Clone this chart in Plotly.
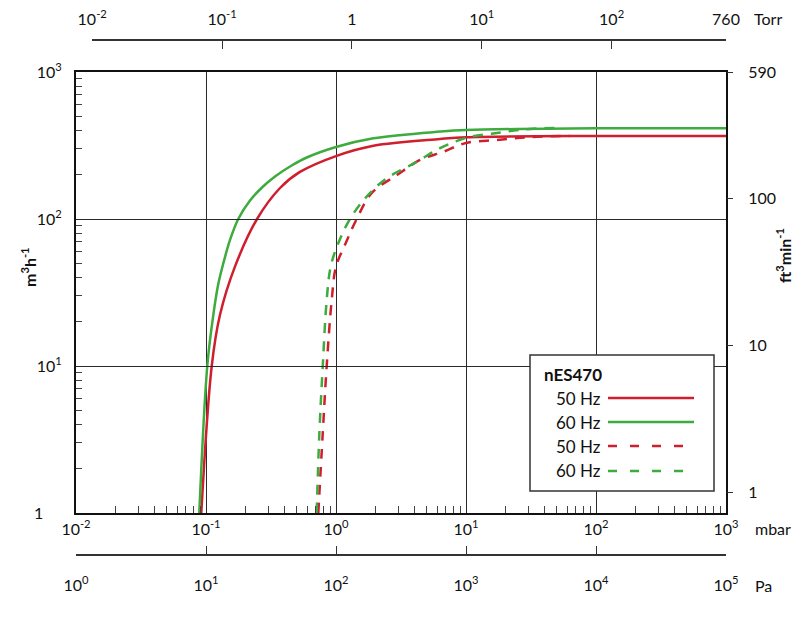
import math
import plotly.graph_objects as go

# ---------------- data ----------------
# pressure in mbar, pumping speed in m3/h
p_50_solid = [0.092, 0.1107, 0.128, 0.167, 0.247, 0.371, 0.528, 1.0, 1.94, 6.3, 10, 100, 1000]
s_50_solid = [1, 10, 22.2, 47.4, 100, 162.5, 209, 268, 315, 350, 360, 367, 367]

p_60_solid = [0.0888, 0.1023, 0.1138, 0.1243, 0.136, 0.153, 0.177, 0.218, 0.2697, 0.3395, 0.456, 0.596,
              1.0, 1.94, 6.3, 10, 100, 1000]
s_60_solid = [1, 10, 22.2, 36.1, 50, 72, 100, 133.6, 163.8, 194.6, 231, 262,
              309, 354, 393, 403, 414, 414]

p_50_dash = [0.731, 0.791, 0.848, 0.927, 1.0, 1.187, 1.443, 1.88, 2.94, 4.43, 6.65, 10, 17.3, 31, 63]
s_50_dash = [1, 3.5, 10, 28.1, 47.4, 68.4, 100, 150, 199, 252, 286, 329, 345, 361, 367]

p_60_dash = [0.710, 0.745, 0.791, 0.848, 0.910, 1.041, 1.281, 1.72, 2.45, 4.18, 6.31, 10, 17.3, 31, 52]
s_60_dash = [1, 3.5, 10, 28.1, 47.4, 68.4, 100, 142, 189, 245, 303, 356, 385, 410, 416]

series_names = ["50 Hz", "60 Hz", "50 Hz", "60 Hz"]
legend_title = "nES470"

mbar_ticks = [0.01, 0.1, 1, 10, 100, 1000]
mbar_labels = ["10<sup>-2</sup>", "10<sup>-1</sup>", "10<sup>0</sup>", "10<sup>1</sup>", "10<sup>2</sup>", "10<sup>3</sup>"]
speed_ticks = [1, 10, 100, 1000]
speed_labels = ["1<span style='color:rgba(0,0,0,0)'>00</span>", "10<sup>1</sup>", "10<sup>2</sup>", "10<sup>3</sup>"]
cfm_ticks = [1, 10, 100, 10 ** 2.858]
cfm_labels = ["1", "10", "100", "590"]
torr_ticks = [0.01, 0.1, 1, 10, 100, 760]
torr_labels = ["10<sup>-2</sup>", "10<sup>-1</sup>", "1", "10<sup>1</sup>", "10<sup>2</sup>", "760"]
pa_ticks = [1, 10, 100, 1000, 10000, 100000]
pa_labels = ["10<sup>0</sup>", "10<sup>1</sup>", "10<sup>2</sup>", "10<sup>3</sup>", "10<sup>4</sup>", "10<sup>5</sup>"]

# ---------------- geometry helpers ----------------
# The page body has an 8px margin, so the figure is drawn 8px up/left.
W, H = 800, 620
OFF = 8
REF_L, REF_T, REF_R, REF_B = 76, 40, 726, 555    # paper area in screen pixels
L, T = REF_L - OFF, REF_T - OFF
PW, PH = REF_R - REF_L, REF_B - REF_T
R, B = W - L - PW, H - T - PH


def px(x):
    return (x - REF_L) / PW


def py(y):
    return (REF_B - y) / PH


RED = "#cf1f2e"
GREEN = "#3dab3d"
FONT = "Lato, 'Open Sans', sans-serif"

minor_x = [m * 10 ** e for e in range(-2, 3) for m in range(2, 10)]
minor_y = [m * 10 ** e for e in range(0, 3) for m in range(2, 10)]

fig = go.Figure()

curves = [
    (p_50_solid, s_50_solid, RED, "solid"),
    (p_60_solid, s_60_solid, GREEN, "solid"),
    (p_50_dash, s_50_dash, RED, "10px,8px"),
    (p_60_dash, s_60_dash, GREEN, "10px,8px"),
]
for (xs, ys, col, dash), name in zip(curves, series_names):
    fig.add_trace(go.Scatter(
        x=xs, y=ys, mode="lines", name=name,
        line=dict(color=col, width=2.5, dash=dash, shape="spline", smoothing=1.0),
        showlegend=False, hoverinfo="skip",
    ))

# empty helper traces so that the secondary axes are drawn
fig.add_trace(go.Scatter(x=[], y=[], xaxis="x", yaxis="y2", showlegend=False, hoverinfo="skip"))
fig.add_trace(go.Scatter(x=[], y=[], xaxis="x2", yaxis="y", showlegend=False, hoverinfo="skip"))
fig.add_trace(go.Scatter(x=[], y=[], xaxis="x3", yaxis="y", showlegend=False, hoverinfo="skip"))

tickfont = dict(family=FONT, size=16, color="#111")

fig.update_layout(
    width=W, height=H,
    margin=dict(l=L, r=R, t=T, b=B, autoexpand=False),
    paper_bgcolor="white",
    plot_bgcolor="rgba(0,0,0,0)",
    font=dict(family=FONT, size=16, color="#111"),
    xaxis=dict(
        type="log", range=[-2, 3], domain=[0, 1], anchor="y", automargin=False,
        tickmode="array", tickvals=mbar_ticks, ticktext=mbar_labels, ticks="",
        tickfont=tickfont, ticklabelstandoff=1,
        showgrid=True, gridcolor="#2a2a2a", gridwidth=1,
        showline=True, linecolor="#111", linewidth=2, mirror=True, zeroline=False,
        minor=dict(tickmode="array", tickvals=minor_x, ticks="inside", ticklen=7,
                   tickcolor="#444", tickwidth=1, showgrid=False),
    ),
    yaxis=dict(
        type="log", range=[0, 3], domain=[py(513), py(72)], anchor="x", automargin=False,
        tickmode="array", tickvals=speed_ticks, ticktext=speed_labels, ticks="",
        tickfont=tickfont, ticklabelstandoff=9,
        showgrid=True, gridcolor="#2a2a2a", gridwidth=1,
        showline=True, linecolor="#111", linewidth=2, mirror=True, zeroline=False,
        minor=dict(tickmode="array", tickvals=minor_y, ticks="inside", ticklen=6,
                   tickcolor="#444", tickwidth=1, showgrid=False),
    ),
    yaxis2=dict(
        type="log", range=[-0.142, 2.858], overlaying="y", side="right", anchor="x", automargin=False,
        tickmode="array", tickvals=cfm_ticks, ticktext=cfm_labels,
        ticks="outside", ticklen=6, tickcolor="#333", tickwidth=1.2,
        tickfont=tickfont, ticklabelstandoff=12,
        showgrid=False, showline=False, zeroline=False,
    ),
    xaxis2=dict(
        type="log", range=[-2, math.log10(760)], domain=[px(92.2), 1], automargin=False,
        anchor="free", position=1, side="top",
        tickmode="array", tickvals=torr_ticks, ticktext=torr_labels,
        ticks="inside", ticklen=8, tickcolor="#333", tickwidth=1.2,
        tickfont=tickfont, ticklabelstandoff=8,
        showgrid=False, showline=True, linecolor="#333", linewidth=1.5, zeroline=False,
    ),
    xaxis3=dict(
        type="log", range=[0, 5], domain=[0, 1], overlaying="x", automargin=False,
        anchor="free", position=0, side="bottom",
        tickmode="array", tickvals=pa_ticks, ticktext=pa_labels,
        ticks="inside", ticklen=8, tickcolor="#333", tickwidth=1.2,
        tickfont=tickfont, ticklabelstandoff=16,
        showgrid=False, showline=True, linecolor="#333", linewidth=1.5, zeroline=False,
    ),
)

annotations = [
    dict(text="<b>m<sup>3</sup>h<sup>-1</sup></b>", x=px(28), y=py(267), textangle=-90,
         xanchor="center", yanchor="middle", font=dict(family=FONT, size=16, color="#111")),
    dict(text="<b>ft<sup>3</sup>min<sup>-1</sup></b>", x=px(783), y=py(256), textangle=-90,
         xanchor="center", yanchor="middle", font=dict(family=FONT, size=16, color="#111")),
    dict(text="Torr", x=px(752), y=py(19), xanchor="left", yanchor="middle"),
    dict(text="mbar", x=px(753), y=py(528), xanchor="left", yanchor="middle"),
    dict(text="Pa", x=px(753), y=py(585), xanchor="left", yanchor="middle"),
    dict(text="<b>" + legend_title + "</b>", x=px(542), y=py(375), xanchor="left", yanchor="middle",
         font=dict(family=FONT, size=17, color="#111")),
]
row_y = [398, 422, 446, 471]
shapes = [
    dict(type="rect", xref="paper", yref="paper", x0=px(530), x1=px(714), y0=py(491), y1=py(355),
         line=dict(color="#333", width=1.5), fillcolor="white", layer="above"),
]
for (xs, ys, col, dash), name, ry in zip(curves, series_names, row_y):
    annotations.append(dict(text=name, x=px(603), y=py(ry), xanchor="right", yanchor="middle",
                            font=dict(family=FONT, size=17, color="#111")))
    shapes.append(dict(type="line", xref="paper", yref="paper", x0=px(608), x1=px(694),
                       y0=py(ry), y1=py(ry), layer="above",
                       line=dict(color=col, width=2.5, dash="solid" if dash == "solid" else "9px,13px")))

for a in annotations:
    a.setdefault("xref", "paper")
    a.setdefault("yref", "paper")
    a.setdefault("showarrow", False)
    a.setdefault("font", dict(family=FONT, size=16, color="#111"))

fig.update_layout(annotations=annotations, shapes=shapes)

fig.write_html("out.html")
